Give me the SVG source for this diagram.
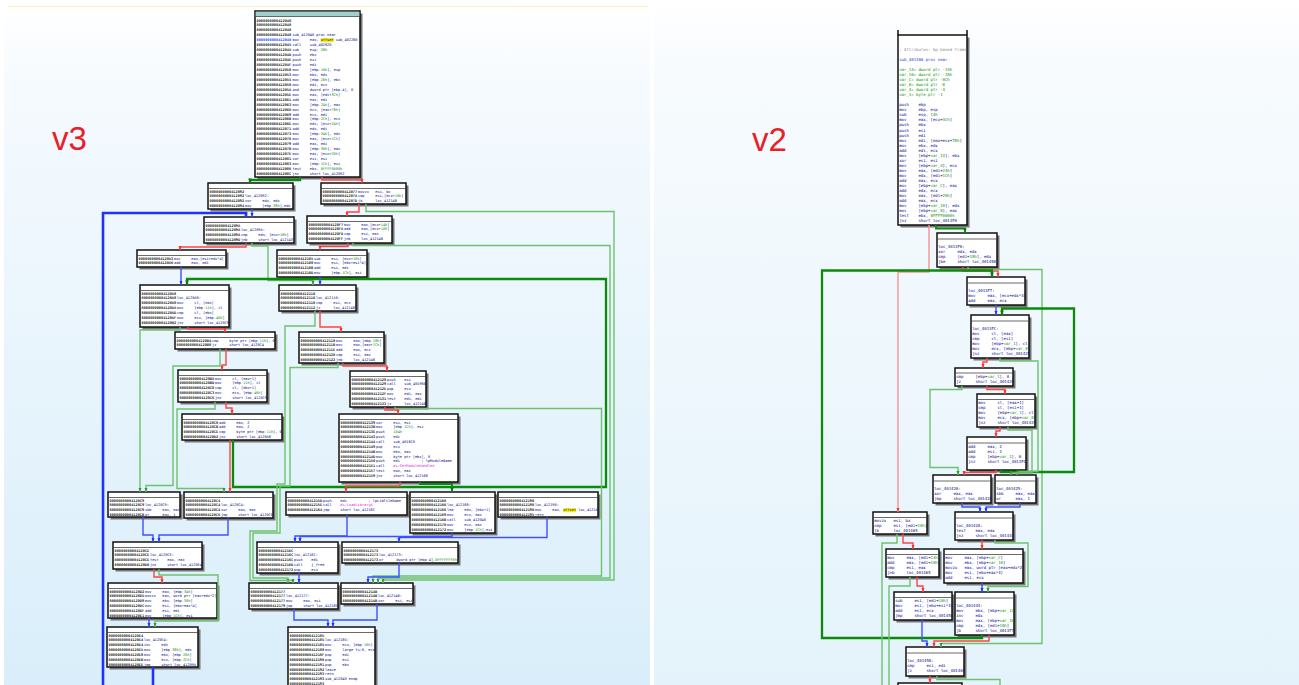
<svg xmlns="http://www.w3.org/2000/svg" width="1299" height="685" viewBox="0 0 1299 685">
<defs>
<style>
.bx{fill:#fff;stroke:#111;stroke-width:1.5}
.sh{fill:#767676}
.hl{stroke:#444;stroke-width:0.8}
.a{font-family:"DejaVu Sans Mono","Liberation Mono",monospace;font-size:3.6px;font-weight:bold;fill:#2a2a2a}
.ab{fill:#2a4cff}
.i{font-family:"DejaVu Sans Mono","Liberation Mono",monospace;font-size:3.6px;fill:#0a0a8c;white-space:pre}
.t{font-family:"DejaVu Sans Mono","Liberation Mono",monospace;font-size:4px;fill:#0a0a8c;white-space:pre}
.g{fill:#0a8f0a}
.m{fill:#e01ee0}
.c{fill:#8a8a8a}
.pn{fill:#2040d0}
.e{fill:none;stroke-width:1.4}
.r{stroke:#ff4444;marker-end:url(#mr)}
.pk{stroke:#f59393;marker-end:url(#mr)}
.lg{stroke:#6dc26d;marker-end:url(#mg)}
.dg{stroke:#0b8b0b;stroke-width:2.3;marker-end:url(#md)}
.b{stroke:#3d50ff;marker-end:url(#mb)}
.bb{stroke:#1f33ff;stroke-width:2.6;marker-end:url(#mb)}
.lbl{font-family:"Liberation Sans",Arial,sans-serif;font-size:33px;fill:#e8202a}
</style>
<marker id="mr" viewBox="0 0 8 6" refX="8" refY="3" markerWidth="4.2" markerHeight="3.6" markerUnits="userSpaceOnUse" orient="auto"><path d="M0,0L8,3L0,6z" fill="#ff2e2e"/></marker>
<marker id="mg" viewBox="0 0 8 6" refX="8" refY="3" markerWidth="4.2" markerHeight="3.6" markerUnits="userSpaceOnUse" orient="auto"><path d="M0,0L8,3L0,6z" fill="#2e9a2e"/></marker>
<marker id="md" viewBox="0 0 8 6" refX="8" refY="3" markerWidth="4.6" markerHeight="4" markerUnits="userSpaceOnUse" orient="auto"><path d="M0,0L8,3L0,6z" fill="#0a7a0a"/></marker>
<marker id="mb" viewBox="0 0 8 6" refX="8" refY="3" markerWidth="4.2" markerHeight="3.6" markerUnits="userSpaceOnUse" orient="auto"><path d="M0,0L8,3L0,6z" fill="#1f33ff"/></marker>
<linearGradient id="bgL" x1="0" y1="0" x2="0" y2="1"><stop offset="0" stop-color="#ffffff"/><stop offset="0.12" stop-color="#f5fafe"/><stop offset="1" stop-color="#d9eefa"/></linearGradient>
<linearGradient id="bgR" x1="0" y1="0" x2="0" y2="1"><stop offset="0" stop-color="#ffffff"/><stop offset="0.1" stop-color="#f7fbfe"/><stop offset="1" stop-color="#e4f3fb"/></linearGradient>
<clipPath id="k20"><rect x="498" y="492" width="100" height="25"/></clipPath>
<clipPath id="k0"><rect x="898" y="35" width="69" height="190"/></clipPath>
<clipPath id="kA"><rect x="937" y="233" width="60" height="34"/></clipPath>
<clipPath id="kB"><rect x="967" y="277" width="58" height="28"/></clipPath>
<clipPath id="kC"><rect x="971" y="315" width="58" height="43"/></clipPath>
<clipPath id="kD"><rect x="955" y="368" width="58" height="18"/></clipPath>
<clipPath id="kE"><rect x="977" y="394" width="58" height="33"/></clipPath>
<clipPath id="kF"><rect x="967" y="437" width="59" height="33"/></clipPath>
<clipPath id="kG"><rect x="933" y="475" width="58" height="28"/></clipPath>
<clipPath id="kH"><rect x="995" y="475" width="41" height="28"/></clipPath>
<clipPath id="kI"><rect x="873" y="512" width="54" height="22"/></clipPath>
<clipPath id="kJ"><rect x="955" y="512" width="58" height="28"/></clipPath>
<clipPath id="kK"><rect x="886" y="549" width="53" height="28"/></clipPath>
<clipPath id="kL"><rect x="944" y="549" width="79" height="34"/></clipPath>
<clipPath id="kM"><rect x="894" y="592" width="58" height="28"/></clipPath>
<clipPath id="kN"><rect x="955" y="592" width="59" height="43"/></clipPath>
<clipPath id="kO"><rect x="906" y="647" width="58" height="29"/></clipPath>
</defs>

<rect width="1299" height="685" fill="#ffffff"/>
<rect x="4" y="7" width="646" height="678" fill="url(#bgL)"/>
<line x1="8" y1="6.5" x2="648" y2="6.5" stroke="#fbf0c4" stroke-width="1"/>
<rect x="654" y="0" width="645" height="685" fill="url(#bgR)"/>
<text class="lbl" x="52" y="150">v3</text>
<text class="lbl" x="752" y="151">v2</text>

<g id="v3-nodes">
<g id="n3_412040">
<rect class="sh" x="257.5" y="13.5" width="105" height="166"/>
<rect class="bx" x="255" y="11" width="105" height="166"/>
<rect x="255.75" y="11.75" width="103.5" height="4.5" fill="#9fd0cb"/>
<line class="hl" x1="255" y1="16.5" x2="360" y2="16.5"/>
<text class="a" y="21.5"><tspan x="256.5">0000000000412040</tspan><tspan x="256.5" dy="4.95">0000000000412040</tspan><tspan x="256.5" dy="4.95">0000000000412040</tspan><tspan x="256.5" dy="4.95">0000000000412040</tspan><tspan x="256.5" dy="4.95" class="ab">0000000000412040</tspan><tspan x="256.5" dy="4.95">0000000000412045</tspan><tspan x="256.5" dy="4.95">000000000041204A</tspan><tspan x="256.5" dy="4.95">000000000041204D</tspan><tspan x="256.5" dy="4.95">000000000041204E</tspan><tspan x="256.5" dy="4.95">000000000041204F</tspan><tspan x="256.5" dy="4.95">0000000000412050</tspan><tspan x="256.5" dy="4.95">0000000000412053</tspan><tspan x="256.5" dy="4.95">0000000000412055</tspan><tspan x="256.5" dy="4.95">0000000000412058</tspan><tspan x="256.5" dy="4.95">000000000041205A</tspan><tspan x="256.5" dy="4.95">000000000041205E</tspan><tspan x="256.5" dy="4.95">0000000000412061</tspan><tspan x="256.5" dy="4.95">0000000000412063</tspan><tspan x="256.5" dy="4.95">0000000000412066</tspan><tspan x="256.5" dy="4.95">0000000000412069</tspan><tspan x="256.5" dy="4.95">000000000041206B</tspan><tspan x="256.5" dy="4.95">000000000041206E</tspan><tspan x="256.5" dy="4.95">0000000000412071</tspan><tspan x="256.5" dy="4.95">0000000000412073</tspan><tspan x="256.5" dy="4.95">0000000000412076</tspan><tspan x="256.5" dy="4.95">0000000000412079</tspan><tspan x="256.5" dy="4.95">000000000041207B</tspan><tspan x="256.5" dy="4.95">000000000041207E</tspan><tspan x="256.5" dy="4.95">0000000000412081</tspan><tspan x="256.5" dy="4.95">0000000000412083</tspan><tspan x="256.5" dy="4.95">0000000000412086</tspan><tspan x="256.5" dy="4.95">000000000041208C</tspan></text>
<rect x="320.6" y="38.2" width="13" height="4" fill="#f4f000"/>
<text class="i" y="36.35"><tspan x="292.5">sub_412040 proc near</tspan><tspan x="292.5" dy="4.95">mov     eax, offset sub_4022B0</tspan><tspan x="292.5" dy="4.95">call    sub_402820</tspan><tspan x="292.5" dy="4.95">sub     esp, <tspan class="g">28h</tspan></tspan><tspan x="292.5" dy="4.95">push    ebx</tspan><tspan x="292.5" dy="4.95">push    esi</tspan><tspan x="292.5" dy="4.95">push    edi</tspan><tspan x="292.5" dy="4.95">mov     [ebp-<tspan class="g">10h</tspan>], esp</tspan><tspan x="292.5" dy="4.95">mov     ebx, edx</tspan><tspan x="292.5" dy="4.95">mov     [ebp-<tspan class="g">20h</tspan>], ebx</tspan><tspan x="292.5" dy="4.95">mov     edi, ecx</tspan><tspan x="292.5" dy="4.95">and     dword ptr [ebp-4], 0</tspan><tspan x="292.5" dy="4.95">mov     eax, [edi+<tspan class="g">3Ch</tspan>]</tspan><tspan x="292.5" dy="4.95">add     eax, edi</tspan><tspan x="292.5" dy="4.95">mov     [ebp-<tspan class="g">24h</tspan>], eax</tspan><tspan x="292.5" dy="4.95">mov     ecx, [eax+<tspan class="g">78h</tspan>]</tspan><tspan x="292.5" dy="4.95">add     ecx, edi</tspan><tspan x="292.5" dy="4.95">mov     [ebp-<tspan class="g">2Ch</tspan>], ecx</tspan><tspan x="292.5" dy="4.95">mov     edx, [ecx+<tspan class="g">24h</tspan>]</tspan><tspan x="292.5" dy="4.95">add     edx, edi</tspan><tspan x="292.5" dy="4.95">mov     [ebp-<tspan class="g">34h</tspan>], edx</tspan><tspan x="292.5" dy="4.95">mov     eax, [ecx+<tspan class="g">1Ch</tspan>]</tspan><tspan x="292.5" dy="4.95">add     eax, edi</tspan><tspan x="292.5" dy="4.95">mov     [ebp-<tspan class="g">30h</tspan>], eax</tspan><tspan x="292.5" dy="4.95">mov     eax, [ecx+<tspan class="g">20h</tspan>]</tspan><tspan x="292.5" dy="4.95">xor     esi, esi</tspan><tspan x="292.5" dy="4.95">mov     [ebp-<tspan class="g">1Ch</tspan>], esi</tspan><tspan x="292.5" dy="4.95">test    ebx, <tspan class="g">0FFFF0000h</tspan></tspan><tspan x="292.5" dy="4.95">jnz     short loc_412092</tspan></text>
</g>

<g id="n3_412092">
<rect class="sh" x="210.5" y="185.5" width="85" height="26"/>
<rect class="bx" x="208" y="183" width="85" height="26"/>
<line class="hl" x1="208" y1="188.5" x2="293" y2="188.5"/>
<text class="a" y="192.6"><tspan x="209.5">0000000000412092</tspan><tspan x="209.5" dy="4.85">0000000000412092</tspan><tspan x="209.5" dy="4.85">0000000000412092</tspan><tspan x="209.5" dy="4.85">0000000000412094</tspan></text>
<text class="i" y="197.45"><tspan x="245">loc_412092:</tspan><tspan x="245" dy="4.85">xor     edx, edx</tspan><tspan x="245" dy="4.85">mov     [ebp-<tspan class="g">38h</tspan>],edx</tspan></text>
</g>

<g id="n3_412077">
<rect class="sh" x="323.5" y="185.5" width="85" height="21"/>
<rect class="bx" x="321" y="183" width="85" height="21"/>
<line class="hl" x1="321" y1="188.5" x2="406" y2="188.5"/>
<text class="a" y="192.6"><tspan x="322.5">0000000000412077</tspan><tspan x="322.5" dy="4.85">000000000041207A</tspan><tspan x="322.5" dy="4.85">000000000041207D</tspan></text>
<text class="i" y="192.6"><tspan x="358">movzx   esi, bx</tspan><tspan x="358" dy="4.85">cmp     esi,[ecx+<tspan class="g">10h</tspan>]</tspan><tspan x="358" dy="4.85">jb      loc_41214B</tspan></text>
</g>

<g id="n3_41209A">
<rect class="sh" x="206.5" y="219.5" width="90" height="26"/>
<rect class="bx" x="204" y="217" width="90" height="26"/>
<line class="hl" x1="204" y1="222.5" x2="294" y2="222.5"/>
<text class="a" y="226.6"><tspan x="205.5">000000000041209A</tspan><tspan x="205.5" dy="4.85">000000000041209A</tspan><tspan x="205.5" dy="4.85">000000000041209A</tspan><tspan x="205.5" dy="4.85">000000000041209D</tspan></text>
<text class="i" y="231.45"><tspan x="241">loc_41209A:</tspan><tspan x="241" dy="4.85">cmp     edx, [ecx+<tspan class="g">18h</tspan>]</tspan><tspan x="241" dy="4.85">jnb     short loc_412143</tspan></text>
</g>

<g id="n3_4120F7">
<rect class="sh" x="309.5" y="218.5" width="85" height="27"/>
<rect class="bx" x="307" y="216" width="85" height="27"/>
<line class="hl" x1="307" y1="221.5" x2="392" y2="221.5"/>
<text class="a" y="225.6"><tspan x="308.5">00000000004120F7</tspan><tspan x="308.5" dy="4.85">00000000004120FA</tspan><tspan x="308.5" dy="4.85">00000000004120FD</tspan><tspan x="308.5" dy="4.85">00000000004120FF</tspan></text>
<text class="i" y="225.6"><tspan x="344">mov     eax,[ecx+<tspan class="g">14h</tspan>]</tspan><tspan x="344" dy="4.85">add     eax,[ecx+<tspan class="g">10h</tspan>]</tspan><tspan x="344" dy="4.85">cmp     esi, eax</tspan><tspan x="344" dy="4.85">jnb     loc_41214B</tspan></text>
</g>

<g id="n3_4120A3">
<rect class="sh" x="139.5" y="252.5" width="89" height="17"/>
<rect class="bx" x="137" y="250" width="89" height="17"/>
<line class="hl" x1="137" y1="255.5" x2="226" y2="255.5"/>
<text class="a" y="259.6"><tspan x="138.5">00000000004120A3</tspan><tspan x="138.5" dy="4.85">00000000004120A6</tspan></text>
<text class="i" y="259.6"><tspan x="174">mov     eax,[esi+edx*4]</tspan><tspan x="174" dy="4.85">add     eax, edi</tspan></text>
</g>

<g id="n3_412105">
<rect class="sh" x="279.5" y="252.5" width="90" height="27"/>
<rect class="bx" x="277" y="250" width="90" height="27"/>
<line class="hl" x1="277" y1="255.5" x2="367" y2="255.5"/>
<text class="a" y="259.6"><tspan x="278.5">0000000000412105</tspan><tspan x="278.5" dy="4.85">0000000000412108</tspan><tspan x="278.5" dy="4.85">000000000041210B</tspan><tspan x="278.5" dy="4.85">000000000041210D</tspan></text>
<text class="i" y="259.6"><tspan x="314">sub     esi, [ecx+<tspan class="g">10h</tspan>]</tspan><tspan x="314" dy="4.85">mov     esi, [ebx+esi*4]</tspan><tspan x="314" dy="4.85">add     esi, edi</tspan><tspan x="314" dy="4.85">mov     [ebp-<tspan class="g">1Ch</tspan>], esi</tspan></text>
</g>

<g id="n3_4120A8">
<rect class="sh" x="142.5" y="287.5" width="89" height="42"/>
<rect class="bx" x="140" y="285" width="89" height="42"/>
<line class="hl" x1="140" y1="290.5" x2="229" y2="290.5"/>
<text class="a" y="294.6"><tspan x="141.5">00000000004120A8</tspan><tspan x="141.5" dy="4.85">00000000004120A8</tspan><tspan x="141.5" dy="4.85">00000000004120A8</tspan><tspan x="141.5" dy="4.85">00000000004120AA</tspan><tspan x="141.5" dy="4.85">00000000004120AD</tspan><tspan x="141.5" dy="4.85">00000000004120AF</tspan><tspan x="141.5" dy="4.85">00000000004120B2</tspan></text>
<text class="i" y="299.45"><tspan x="177">loc_4120A8:</tspan><tspan x="177" dy="4.85">mov     cl, [eax]</tspan><tspan x="177" dy="4.85">mov     [ebp-<tspan class="g">11h</tspan>], cl</tspan><tspan x="177" dy="4.85">cmp     cl, [ebx]</tspan><tspan x="177" dy="4.85">mov     ecx, [ebp-<tspan class="g">40h</tspan>]</tspan><tspan x="177" dy="4.85">jnz     short loc_4120C9</tspan></text>
</g>

<g id="n3_412110">
<rect class="sh" x="281.5" y="287.5" width="77" height="26"/>
<rect class="bx" x="279" y="285" width="77" height="26"/>
<line class="hl" x1="279" y1="290.5" x2="356" y2="290.5"/>
<text class="a" y="294.6"><tspan x="280.5">0000000000412110</tspan><tspan x="280.5" dy="4.85">0000000000412110</tspan><tspan x="280.5" dy="4.85">0000000000412110</tspan><tspan x="280.5" dy="4.85">0000000000412112</tspan></text>
<text class="i" y="299.45"><tspan x="316">loc_412110:</tspan><tspan x="316" dy="4.85">cmp     esi, ecx</tspan><tspan x="316" dy="4.85">jz      loc_41214B</tspan></text>
</g>

<g id="n3_4120B4">
<rect class="sh" x="177.5" y="334.5" width="100" height="17"/>
<rect class="bx" x="175" y="332" width="100" height="17"/>
<line class="hl" x1="175" y1="337.5" x2="275" y2="337.5"/>
<text class="a" y="341.6"><tspan x="176.5">00000000004120B4</tspan><tspan x="176.5" dy="4.85">00000000004120B8</tspan></text>
<text class="i" y="341.6"><tspan x="212">cmp     byte ptr [ebp-<tspan class="g">11h</tspan>], 0</tspan><tspan x="212" dy="4.85">jz      short loc_4120C4</tspan></text>
</g>

<g id="n3_412118">
<rect class="sh" x="301.5" y="334.5" width="85" height="31"/>
<rect class="bx" x="299" y="332" width="85" height="31"/>
<line class="hl" x1="299" y1="337.5" x2="384" y2="337.5"/>
<text class="a" y="341.6"><tspan x="300.5">0000000000412118</tspan><tspan x="300.5" dy="4.85">000000000041211B</tspan><tspan x="300.5" dy="4.85">000000000041211E</tspan><tspan x="300.5" dy="4.85">0000000000412120</tspan><tspan x="300.5" dy="4.85">0000000000412122</tspan></text>
<text class="i" y="341.6"><tspan x="336">mov     eax,[ebp-<tspan class="g">18h</tspan>]</tspan><tspan x="336" dy="4.85">mov     eax,[eax+<tspan class="g">7Ch</tspan>]</tspan><tspan x="336" dy="4.85">add     eax, ecx</tspan><tspan x="336" dy="4.85">cmp     esi, eax</tspan><tspan x="336" dy="4.85">jnb     loc_41214B</tspan></text>
</g>

<g id="n3_4120BA">
<rect class="sh" x="180.5" y="372.5" width="89" height="32"/>
<rect class="bx" x="178" y="370" width="89" height="32"/>
<line class="hl" x1="178" y1="375.5" x2="267" y2="375.5"/>
<text class="a" y="379.6"><tspan x="179.5">00000000004120BA</tspan><tspan x="179.5" dy="4.85">00000000004120BD</tspan><tspan x="179.5" dy="4.85">00000000004120C0</tspan><tspan x="179.5" dy="4.85">00000000004120C3</tspan><tspan x="179.5" dy="4.85">00000000004120C6</tspan></text>
<text class="i" y="379.6"><tspan x="215">mov     cl, [eax+1]</tspan><tspan x="215" dy="4.85">mov     [ebp-<tspan class="g">11h</tspan>], cl</tspan><tspan x="215" dy="4.85">cmp     cl, [ebx+1]</tspan><tspan x="215" dy="4.85">mov     ecx, [ebp-<tspan class="g">40h</tspan>]</tspan><tspan x="215" dy="4.85">jnz     short loc_4120C9</tspan></text>
</g>

<g id="n3_412128">
<rect class="sh" x="352.5" y="373.5" width="76" height="36"/>
<rect class="bx" x="350" y="371" width="76" height="36"/>
<line class="hl" x1="350" y1="376.5" x2="426" y2="376.5"/>
<text class="a" y="380.6"><tspan x="351.5">0000000000412128</tspan><tspan x="351.5" dy="4.85">0000000000412129</tspan><tspan x="351.5" dy="4.85">000000000041212E</tspan><tspan x="351.5" dy="4.85">000000000041212F</tspan><tspan x="351.5" dy="4.85">0000000000412131</tspan><tspan x="351.5" dy="4.85">0000000000412133</tspan></text>
<text class="i" y="380.6"><tspan x="387">push    esi</tspan><tspan x="387" dy="4.85">call    sub_401960</tspan><tspan x="387" dy="4.85">pop     ecx</tspan><tspan x="387" dy="4.85">mov     edi, eax</tspan><tspan x="387" dy="4.85">test    edi, edi</tspan><tspan x="387" dy="4.85">jz      loc_41214B</tspan></text>
</g>

<g id="n3_4120C8">
<rect class="sh" x="184.5" y="416.5" width="100" height="26"/>
<rect class="bx" x="182" y="414" width="100" height="26"/>
<line class="hl" x1="182" y1="419.5" x2="282" y2="419.5"/>
<text class="a" y="423.6"><tspan x="183.5">00000000004120C8</tspan><tspan x="183.5" dy="4.85">00000000004120CB</tspan><tspan x="183.5" dy="4.85">00000000004120CE</tspan><tspan x="183.5" dy="4.85">00000000004120D2</tspan></text>
<text class="i" y="423.6"><tspan x="219">add     ebx, 2</tspan><tspan x="219" dy="4.85">add     eax, 2</tspan><tspan x="219" dy="4.85">cmp     byte ptr [ebp-<tspan class="g">11h</tspan>], 0</tspan><tspan x="219" dy="4.85">jnz     short loc_4120A8</tspan></text>
</g>

<g id="n3_412139">
<rect class="sh" x="341.5" y="416.5" width="119" height="68"/>
<rect class="bx" x="339" y="414" width="119" height="68"/>
<line class="hl" x1="339" y1="419.5" x2="458" y2="419.5"/>
<text class="a" y="423.6"><tspan x="340.5">0000000000412139</tspan><tspan x="340.5" dy="4.85">000000000041213B</tspan><tspan x="340.5" dy="4.85">000000000041213E</tspan><tspan x="340.5" dy="4.85">0000000000412143</tspan><tspan x="340.5" dy="4.85">0000000000412144</tspan><tspan x="340.5" dy="4.85">0000000000412149</tspan><tspan x="340.5" dy="4.85">000000000041214B</tspan><tspan x="340.5" dy="4.85">000000000041214D</tspan><tspan x="340.5" dy="4.85">0000000000412150</tspan><tspan x="340.5" dy="4.85">0000000000412151</tspan><tspan x="340.5" dy="4.85">0000000000412157</tspan><tspan x="340.5" dy="4.85">0000000000412159</tspan></text>
<text class="i" y="423.6"><tspan x="376">xor     esi, esi</tspan><tspan x="376" dy="4.85">mov     [ebp-<tspan class="g">1Ch</tspan>], esi</tspan><tspan x="376" dy="4.85">push    <tspan class="g">104h</tspan></tspan><tspan x="376" dy="4.85">push    edi</tspan><tspan x="376" dy="4.85">call    sub_4016C0</tspan><tspan x="376" dy="4.85">pop     ecx</tspan><tspan x="376" dy="4.85">mov     ebx, eax</tspan><tspan x="376" dy="4.85">mov     byte ptr [ebx], 0</tspan><tspan x="376" dy="4.85">push    edi          ; lpModuleName</tspan><tspan x="376" dy="4.85">call    <tspan class="m">ds:GetModuleHandleA</tspan></tspan><tspan x="376" dy="4.85">test    eax, eax</tspan><tspan x="376" dy="4.85">jnz     short loc_412166</tspan></text>
</g>

<g id="n3_4120C9">
<rect class="sh" x="110.5" y="494.5" width="72" height="25"/>
<rect class="bx" x="108" y="492" width="72" height="25"/>
<line class="hl" x1="108" y1="497.5" x2="180" y2="497.5"/>
<text class="a" y="501.6"><tspan x="109.5">00000000004120C9</tspan><tspan x="109.5" dy="4.85">00000000004120C9</tspan><tspan x="109.5" dy="4.85">00000000004120C9</tspan><tspan x="109.5" dy="4.85">00000000004120CB</tspan></text>
<text class="i" y="506.45"><tspan x="145">loc_4120C9:</tspan><tspan x="145" dy="4.85">sbb     eax, eax</tspan><tspan x="145" dy="4.85">or      eax, 1</tspan></text>
</g>

<g id="n3_4120C4">
<rect class="sh" x="186.5" y="494.5" width="89" height="26"/>
<rect class="bx" x="184" y="492" width="89" height="26"/>
<line class="hl" x1="184" y1="497.5" x2="273" y2="497.5"/>
<text class="a" y="501.6"><tspan x="185.5">00000000004120C4</tspan><tspan x="185.5" dy="4.85">00000000004120C4</tspan><tspan x="185.5" dy="4.85">00000000004120C4</tspan><tspan x="185.5" dy="4.85">00000000004120C6</tspan></text>
<text class="i" y="506.45"><tspan x="221">loc_4120C4:</tspan><tspan x="221" dy="4.85">xor     eax, eax</tspan><tspan x="221" dy="4.85">jmp     short loc_4120CE</tspan></text>
</g>

<g id="n3_41215D">
<rect class="sh" x="288.5" y="494.5" width="121" height="23"/>
<rect class="bx" x="286" y="492" width="121" height="23"/>
<line class="hl" x1="286" y1="497.5" x2="407" y2="497.5"/>
<text class="a" y="501.6"><tspan x="287.5">000000000041215D</tspan><tspan x="287.5" dy="4.85">000000000041215E</tspan><tspan x="287.5" dy="4.85">0000000000412164</tspan></text>
<text class="i" y="501.6"><tspan x="323">push    edi          ; lpLibFileName</tspan><tspan x="323" dy="4.85">call    <tspan class="m">ds:LoadLibraryA</tspan></tspan><tspan x="323" dy="4.85">jmp     short loc_41216C</tspan></text>
</g>

<g id="n3_412166">
<rect class="sh" x="412.5" y="494.5" width="85" height="41"/>
<rect class="bx" x="410" y="492" width="85" height="41"/>
<line class="hl" x1="410" y1="497.5" x2="495" y2="497.5"/>
<text class="a" y="501.6"><tspan x="411.5">0000000000412166</tspan><tspan x="411.5" dy="4.85">0000000000412166</tspan><tspan x="411.5" dy="4.85">0000000000412166</tspan><tspan x="411.5" dy="4.85">0000000000412169</tspan><tspan x="411.5" dy="4.85">000000000041216B</tspan><tspan x="411.5" dy="4.85">0000000000412170</tspan><tspan x="411.5" dy="4.85">0000000000412172</tspan></text>
<text class="i" y="506.45"><tspan x="447">loc_412166:</tspan><tspan x="447" dy="4.85">lea     edx, [ebx+1]</tspan><tspan x="447" dy="4.85">mov     ecx, eax</tspan><tspan x="447" dy="4.85">call    sub_412040</tspan><tspan x="447" dy="4.85">mov     ecx, eax</tspan><tspan x="447" dy="4.85">mov     [ebp-<tspan class="g">1Ch</tspan>],esi</tspan></text>
</g>

<g id="n3_412190">
<rect class="sh" x="500.5" y="494.5" width="100" height="25"/>
<rect class="bx" x="498" y="492" width="100" height="25"/>
<line class="hl" x1="498" y1="497.5" x2="598" y2="497.5"/>
<text class="a" y="501.6"><tspan x="499.5">0000000000412190</tspan><tspan x="499.5" dy="4.85">0000000000412190</tspan><tspan x="499.5" dy="4.85">0000000000412190</tspan><tspan x="499.5" dy="4.85">0000000000412195</tspan></text>
<rect x="563.2" y="508.2" width="13" height="4" fill="#f4f000"/>
<g clip-path="url(#k20)"><text class="i" y="506.45"><tspan x="535">loc_412190:</tspan><tspan x="535" dy="4.85">mov     eax, offset loc_4121A0</tspan><tspan x="535" dy="4.85">retn</tspan></text></g>
</g>

<g id="n3_4120CE">
<rect class="sh" x="115.5" y="544.5" width="89" height="27"/>
<rect class="bx" x="113" y="542" width="89" height="27"/>
<line class="hl" x1="113" y1="547.5" x2="202" y2="547.5"/>
<text class="a" y="551.6"><tspan x="114.5">00000000004120CE</tspan><tspan x="114.5" dy="4.85">00000000004120CE</tspan><tspan x="114.5" dy="4.85">00000000004120CE</tspan><tspan x="114.5" dy="4.85">00000000004120D0</tspan></text>
<text class="i" y="556.45"><tspan x="150">loc_4120CE:</tspan><tspan x="150" dy="4.85">test    eax, eax</tspan><tspan x="150" dy="4.85">jnz     short loc_4120E4</tspan></text>
</g>

<g id="n3_41216C">
<rect class="sh" x="259.5" y="544.5" width="81" height="31"/>
<rect class="bx" x="257" y="542" width="81" height="31"/>
<line class="hl" x1="257" y1="547.5" x2="338" y2="547.5"/>
<text class="a" y="551.6"><tspan x="258.5">000000000041216C</tspan><tspan x="258.5" dy="4.85">000000000041216C</tspan><tspan x="258.5" dy="4.85">000000000041216C</tspan><tspan x="258.5" dy="4.85">000000000041216D</tspan><tspan x="258.5" dy="4.85">0000000000412172</tspan></text>
<text class="i" y="556.45"><tspan x="294">loc_41216C:</tspan><tspan x="294" dy="4.85">push    edi</tspan><tspan x="294" dy="4.85">call    j_free</tspan><tspan x="294" dy="4.85">pop     ecx</tspan></text>
</g>

<g id="n3_412173">
<rect class="sh" x="344.5" y="544.5" width="116" height="21"/>
<rect class="bx" x="342" y="542" width="116" height="21"/>
<line class="hl" x1="342" y1="547.5" x2="458" y2="547.5"/>
<text class="a" y="551.6"><tspan x="343.5">0000000000412173</tspan><tspan x="343.5" dy="4.85">0000000000412173</tspan><tspan x="343.5" dy="4.85">0000000000412173</tspan></text>
<text class="i" y="556.45"><tspan x="379">loc_412173:</tspan><tspan x="379" dy="4.85">or      dword ptr [ebp-4],<tspan class="g">0FFFFFFFEh</tspan></tspan></text>
</g>

<g id="n3_4120D2">
<rect class="sh" x="110.5" y="585.5" width="109" height="35"/>
<rect class="bx" x="108" y="583" width="109" height="35"/>
<line class="hl" x1="108" y1="588.5" x2="217" y2="588.5"/>
<text class="a" y="592.6"><tspan x="109.5">00000000004120D2</tspan><tspan x="109.5" dy="4.85">00000000004120D5</tspan><tspan x="109.5" dy="4.85">00000000004120D9</tspan><tspan x="109.5" dy="4.85">00000000004120DC</tspan><tspan x="109.5" dy="4.85">00000000004120DF</tspan><tspan x="109.5" dy="4.85">00000000004120E1</tspan></text>
<text class="i" y="592.6"><tspan x="145">mov     eax, [ebp-<tspan class="g">34h</tspan>]</tspan><tspan x="145" dy="4.85">movzx   eax, word ptr [eax+edx*2]</tspan><tspan x="145" dy="4.85">mov     ebx, [ebp-<tspan class="g">30h</tspan>]</tspan><tspan x="145" dy="4.85">mov     esi, [ebx+eax*4]</tspan><tspan x="145" dy="4.85">add     esi, edi</tspan><tspan x="145" dy="4.85">mov     [ebp-<tspan class="g">1Ch</tspan>], esi</tspan></text>
</g>

<g id="n3_412177">
<rect class="sh" x="251.5" y="585.5" width="89" height="26"/>
<rect class="bx" x="249" y="583" width="89" height="26"/>
<line class="hl" x1="249" y1="588.5" x2="338" y2="588.5"/>
<text class="a" y="592.6"><tspan x="250.5">0000000000412177</tspan><tspan x="250.5" dy="4.85">0000000000412177</tspan><tspan x="250.5" dy="4.85">0000000000412177</tspan><tspan x="250.5" dy="4.85">0000000000412179</tspan></text>
<text class="i" y="597.45"><tspan x="286">loc_412177:</tspan><tspan x="286" dy="4.85">mov     eax, esi</tspan><tspan x="286" dy="4.85">jmp     short loc_412185</tspan></text>
</g>

<g id="n3_41214B">
<rect class="sh" x="343.5" y="585.5" width="72" height="21"/>
<rect class="bx" x="341" y="583" width="72" height="21"/>
<line class="hl" x1="341" y1="588.5" x2="413" y2="588.5"/>
<text class="a" y="592.6"><tspan x="342.5">000000000041214B</tspan><tspan x="342.5" dy="4.85">000000000041214B</tspan><tspan x="342.5" dy="4.85">000000000041214B</tspan></text>
<text class="i" y="597.45"><tspan x="378">loc_41214B:</tspan><tspan x="378" dy="4.85">xor     esi, esi</tspan></text>
</g>

<g id="n3_4120E4">
<rect class="sh" x="109.5" y="629.5" width="91" height="40"/>
<rect class="bx" x="107" y="627" width="91" height="40"/>
<line class="hl" x1="107" y1="632.5" x2="198" y2="632.5"/>
<text class="a" y="636.6"><tspan x="108.5">00000000004120E4</tspan><tspan x="108.5" dy="4.85">00000000004120E4</tspan><tspan x="108.5" dy="4.85">00000000004120E4</tspan><tspan x="108.5" dy="4.85">00000000004120E5</tspan><tspan x="108.5" dy="4.85">00000000004120E8</tspan><tspan x="108.5" dy="4.85">00000000004120EB</tspan><tspan x="108.5" dy="4.85">00000000004120EE</tspan></text>
<text class="i" y="641.45"><tspan x="144">loc_4120E4:</tspan><tspan x="144" dy="4.85">inc     edx</tspan><tspan x="144" dy="4.85">mov     [ebp-<tspan class="g">38h</tspan>], edx</tspan><tspan x="144" dy="4.85">mov     ebx, [ebp-<tspan class="g">20h</tspan>]</tspan><tspan x="144" dy="4.85">mov     ecx, [ebp-<tspan class="g">2Ch</tspan>]</tspan><tspan x="144" dy="4.85">jmp     short loc_41209A</tspan></text>
</g>

<g id="n3_412185">
<rect class="sh" x="290.5" y="629.5" width="87" height="62"/>
<rect class="bx" x="288" y="627" width="87" height="62"/>
<line class="hl" x1="288" y1="632.5" x2="375" y2="632.5"/>
<text class="a" y="636.6"><tspan x="289.5">0000000000412185</tspan><tspan x="289.5" dy="4.85">0000000000412185</tspan><tspan x="289.5" dy="4.85">0000000000412185</tspan><tspan x="289.5" dy="4.85">0000000000412188</tspan><tspan x="289.5" dy="4.85">000000000041218F</tspan><tspan x="289.5" dy="4.85">0000000000412190</tspan><tspan x="289.5" dy="4.85">0000000000412191</tspan><tspan x="289.5" dy="4.85">0000000000412192</tspan><tspan x="289.5" dy="4.85">0000000000412193</tspan><tspan x="289.5" dy="4.85">0000000000412193</tspan><tspan x="289.5" dy="4.85">0000000000412193</tspan></text>
<text class="i" y="641.45"><tspan x="325">loc_412185:</tspan><tspan x="325" dy="4.85">mov     ecx, [ebp-<tspan class="g">10h</tspan>]</tspan><tspan x="325" dy="4.85">mov     large fs:0, ecx</tspan><tspan x="325" dy="4.85">pop     edi</tspan><tspan x="325" dy="4.85">pop     esi</tspan><tspan x="325" dy="4.85">pop     ebx</tspan><tspan x="325" dy="4.85">leave</tspan><tspan x="325" dy="4.85">retn</tspan><tspan x="325" dy="4.85">sub_412040 endp</tspan></text>
</g>
</g>

<g id="v2-nodes">
<g id="n2_4013A0">
<rect class="sh" x="900.5" y="37.5" width="69" height="190"/>
<rect class="bx" x="898" y="35" width="69" height="190"/>
<path d="M898,30V35M967,30V35" stroke="#111" stroke-width="1.5"/>
<g clip-path="url(#k0)">
<text class="t c" x="899.2" y="50.5">; Attributes: bp-based frame</text>
<text class="t pn" x="899.2" y="60.5">sub_4013A0 proc near</text>
<text class="t g" y="70.5"><tspan x="899.2">var_14= dword ptr -14h</tspan><tspan x="899.2" dy="5">var_10= dword ptr -10h</tspan><tspan x="899.2" dy="5">var_C= dword ptr -0Ch</tspan><tspan x="899.2" dy="5">var_8= dword ptr -8</tspan><tspan x="899.2" dy="5">var_4= dword ptr -4</tspan><tspan x="899.2" dy="5">var_1= byte ptr -1</tspan></text>
<text class="t" y="106.3"><tspan x="899.2">push    ebp</tspan><tspan x="899.2" dy="5.04">mov     ebp, esp</tspan><tspan x="899.2" dy="5.04">sub     esp, <tspan class="g">14h</tspan></tspan><tspan x="899.2" dy="5.04">mov     eax, [ecx+<tspan class="g">3Ch</tspan>]</tspan><tspan x="899.2" dy="5.04">push    ebx</tspan><tspan x="899.2" dy="5.04">push    esi</tspan><tspan x="899.2" dy="5.04">push    edi</tspan><tspan x="899.2" dy="5.04">mov     edi, [eax+ecx+<tspan class="g">78h</tspan>]</tspan><tspan x="899.2" dy="5.04">mov     ebx, edx</tspan><tspan x="899.2" dy="5.04">add     edi, ecx</tspan><tspan x="899.2" dy="5.04">mov     [ebp+<tspan class="g">var_14</tspan>], ebx</tspan><tspan x="899.2" dy="5.04">xor     esi, esi</tspan><tspan x="899.2" dy="5.04">mov     [ebp+<tspan class="g">var_4</tspan>], ecx</tspan><tspan x="899.2" dy="5.04">mov     eax, [edi+<tspan class="g">24h</tspan>]</tspan><tspan x="899.2" dy="5.04">mov     edx, [edi+<tspan class="g">1Ch</tspan>]</tspan><tspan x="899.2" dy="5.04">add     eax, ecx</tspan><tspan x="899.2" dy="5.04">mov     [ebp+<tspan class="g">var_C</tspan>], eax</tspan><tspan x="899.2" dy="5.04">add     edx, ecx</tspan><tspan x="899.2" dy="5.04">mov     eax, [edi+<tspan class="g">20h</tspan>]</tspan><tspan x="899.2" dy="5.04">add     eax, ecx</tspan><tspan x="899.2" dy="5.04">mov     [ebp+<tspan class="g">var_10</tspan>], edx</tspan><tspan x="899.2" dy="5.04">mov     [ebp+<tspan class="g">var_8</tspan>], eax</tspan><tspan x="899.2" dy="5.04">test    ebx, <tspan class="g">0FFFF0000h</tspan></tspan><tspan x="899.2" dy="5.04">jnz     short loc_4013F0</tspan></text>
</g>
</g>

<g id="n2_4013F0">
<rect class="sh" x="939.5" y="235.5" width="60" height="34"/>
<rect class="bx" x="937" y="233" width="60" height="34"/>
<line class="hl" x1="937" y1="239" x2="997" y2="239"/>
<g clip-path="url(#kA)"><text class="t" y="248.3"><tspan x="938.2">loc_4013F0:</tspan><tspan x="938.2" dy="5">xor     edx, edx</tspan><tspan x="938.2" dy="5">cmp     [edi+<tspan class="g">18h</tspan>], edx</tspan><tspan x="938.2" dy="5">jbe     short loc_401458</tspan></text></g>
</g>

<g id="n2_4013F7">
<rect class="sh" x="969.5" y="279.5" width="58" height="28"/>
<rect class="bx" x="967" y="277" width="58" height="28"/>
<line class="hl" x1="967" y1="283" x2="1025" y2="283"/>
<g clip-path="url(#kB)"><text class="t" y="292.3"><tspan x="968.2">loc_4013F7:</tspan><tspan x="968.2" dy="5">mov     eax, [ecx+edx*4]</tspan><tspan x="968.2" dy="5">add     eax, ecx</tspan></text></g>
</g>

<g id="n2_4013FC">
<rect class="sh" x="973.5" y="317.5" width="58" height="43"/>
<rect class="bx" x="971" y="315" width="58" height="43"/>
<line class="hl" x1="971" y1="321" x2="1029" y2="321"/>
<g clip-path="url(#kC)"><text class="t" y="330.3"><tspan x="972.2">loc_4013FC:</tspan><tspan x="972.2" dy="5">mov     cl, [eax]</tspan><tspan x="972.2" dy="5">cmp     cl, [esi]</tspan><tspan x="972.2" dy="5">mov     [ebp+<tspan class="g">var_1</tspan>], cl</tspan><tspan x="972.2" dy="5">mov     ecx, [ebp+<tspan class="g">var_8</tspan>]</tspan><tspan x="972.2" dy="5">jnz     short loc_401425</tspan></text></g>
</g>

<g id="n2_40140B">
<rect class="sh" x="957.5" y="370.5" width="58" height="18"/>
<rect class="bx" x="955" y="368" width="58" height="18"/>
<line class="hl" x1="955" y1="373" x2="1013" y2="373"/>
<g clip-path="url(#kD)"><text class="t" y="378.3"><tspan x="956.2">cmp     [ebp+<tspan class="g">var_1</tspan>], 0</tspan><tspan x="956.2" dy="5">jz      short loc_401420</tspan></text></g>
</g>

<g id="n2_401411">
<rect class="sh" x="979.5" y="396.5" width="58" height="33"/>
<rect class="bx" x="977" y="394" width="58" height="33"/>
<line class="hl" x1="977" y1="399.5" x2="1035" y2="399.5"/>
<g clip-path="url(#kE)"><text class="t" y="404.3"><tspan x="978.2">mov     cl, [eax+1]</tspan><tspan x="978.2" dy="5">cmp     cl, [esi+1]</tspan><tspan x="978.2" dy="5">mov     [ebp+<tspan class="g">var_1</tspan>], cl</tspan><tspan x="978.2" dy="5">mov     ecx, [ebp+<tspan class="g">var_8</tspan>]</tspan><tspan x="978.2" dy="5">jnz     short loc_401425</tspan></text></g>
</g>

<g id="n2_401414">
<rect class="sh" x="969.5" y="439.5" width="59" height="33"/>
<rect class="bx" x="967" y="437" width="59" height="33"/>
<line class="hl" x1="967" y1="443" x2="1026" y2="443"/>
<g clip-path="url(#kF)"><text class="t" y="448.3"><tspan x="968.2">add     eax, 2</tspan><tspan x="968.2" dy="5">add     esi, 2</tspan><tspan x="968.2" dy="5">cmp     [ebp+<tspan class="g">var_1</tspan>], 0</tspan><tspan x="968.2" dy="5">jnz     short loc_4013FC</tspan></text></g>
</g>

<g id="n2_401420">
<rect class="sh" x="935.5" y="477.5" width="58" height="28"/>
<rect class="bx" x="933" y="475" width="58" height="28"/>
<line class="hl" x1="933" y1="481" x2="991" y2="481"/>
<g clip-path="url(#kG)"><text class="t" y="490.3"><tspan x="934.2">loc_401420:</tspan><tspan x="934.2" dy="5">xor     eax, eax</tspan><tspan x="934.2" dy="5">jmp     short loc_40142A</tspan></text></g>
</g>

<g id="n2_401425">
<rect class="sh" x="997.5" y="477.5" width="41" height="28"/>
<rect class="bx" x="995" y="475" width="41" height="28"/>
<line class="hl" x1="995" y1="481" x2="1036" y2="481"/>
<g clip-path="url(#kH)"><text class="t" y="490.3"><tspan x="996.2">loc_401425:</tspan><tspan x="996.2" dy="5">sbb     eax, eax</tspan><tspan x="996.2" dy="5">or      eax, 1</tspan></text></g>
</g>

<g id="n2_4013D8">
<rect class="sh" x="875.5" y="514.5" width="54" height="22"/>
<rect class="bx" x="873" y="512" width="54" height="22"/>
<line class="hl" x1="873" y1="517.5" x2="927" y2="517.5"/>
<g clip-path="url(#kI)"><text class="t" y="522.3"><tspan x="874.2">movzx   esi, bx</tspan><tspan x="874.2" dy="5">cmp     esi, [edi+<tspan class="g">10h</tspan>]</tspan><tspan x="874.2" dy="5">jb      loc_401465</tspan></text></g>
</g>

<g id="n2_40142A">
<rect class="sh" x="957.5" y="514.5" width="58" height="28"/>
<rect class="bx" x="955" y="512" width="58" height="28"/>
<line class="hl" x1="955" y1="518" x2="1013" y2="518"/>
<g clip-path="url(#kJ)"><text class="t" y="527.3"><tspan x="956.2">loc_40142A:</tspan><tspan x="956.2" dy="5">test    eax, eax</tspan><tspan x="956.2" dy="5">jnz     short loc_401444</tspan></text></g>
</g>

<g id="n2_4013E4">
<rect class="sh" x="888.5" y="551.5" width="53" height="28"/>
<rect class="bx" x="886" y="549" width="53" height="28"/>
<line class="hl" x1="886" y1="554.5" x2="939" y2="554.5"/>
<g clip-path="url(#kK)"><text class="t" y="559.3"><tspan x="887.2">mov     eax, [edi+<tspan class="g">14h</tspan>]</tspan><tspan x="887.2" dy="5">add     eax, [edi+<tspan class="g">10h</tspan>]</tspan><tspan x="887.2" dy="5">cmp     esi, eax</tspan><tspan x="887.2" dy="5">jnb     loc_401465</tspan></text></g>
</g>

<g id="n2_401430">
<rect class="sh" x="946.5" y="551.5" width="79" height="34"/>
<rect class="bx" x="944" y="549" width="79" height="34"/>
<line class="hl" x1="944" y1="554.5" x2="1023" y2="554.5"/>
<g clip-path="url(#kL)"><text class="t" y="559.3"><tspan x="945.2">mov     eax, [ebp+<tspan class="g">var_C</tspan>]</tspan><tspan x="945.2" dy="5">mov     ebx, [ebp+<tspan class="g">var_10</tspan>]</tspan><tspan x="945.2" dy="5">movzx   eax, word ptr [eax+edx*2]</tspan><tspan x="945.2" dy="5">mov     esi, [ebx+eax*4]</tspan><tspan x="945.2" dy="5">add     esi, ecx</tspan></text></g>
</g>

<g id="n2_4013EF">
<rect class="sh" x="896.5" y="594.5" width="58" height="28"/>
<rect class="bx" x="894" y="592" width="58" height="28"/>
<line class="hl" x1="894" y1="597.5" x2="952" y2="597.5"/>
<g clip-path="url(#kM)"><text class="t" y="602.3"><tspan x="895.2">sub     esi, [edi+<tspan class="g">10h</tspan>]</tspan><tspan x="895.2" dy="5">mov     esi, [ebx+esi*4]</tspan><tspan x="895.2" dy="5">add     esi, ecx</tspan><tspan x="895.2" dy="5">jmp     short loc_401458</tspan></text></g>
</g>

<g id="n2_401444">
<rect class="sh" x="957.5" y="594.5" width="59" height="43"/>
<rect class="bx" x="955" y="592" width="59" height="43"/>
<line class="hl" x1="955" y1="598" x2="1014" y2="598"/>
<g clip-path="url(#kN)"><text class="t" y="607.3"><tspan x="956.2">loc_401444:</tspan><tspan x="956.2" dy="5">mov     ebx, [ebp+<tspan class="g">var_14</tspan>]</tspan><tspan x="956.2" dy="5">inc     edx</tspan><tspan x="956.2" dy="5">mov     eax, [ebp+<tspan class="g">var_10</tspan>]</tspan><tspan x="956.2" dy="5">cmp     edx, [edi+<tspan class="g">18h</tspan>]</tspan><tspan x="956.2" dy="5">jb      short loc_4013F7</tspan></text></g>
</g>

<g id="n2_401458">
<rect class="sh" x="908.5" y="649.5" width="58" height="29"/>
<rect class="bx" x="906" y="647" width="58" height="29"/>
<line class="hl" x1="906" y1="653" x2="964" y2="653"/>
<g clip-path="url(#kO)"><text class="t" y="662.3"><tspan x="907.2">loc_401458:</tspan><tspan x="907.2" dy="5">cmp     esi, edi</tspan><tspan x="907.2" dy="5">jz      short loc_401465</tspan></text></g>
</g>

<g id="n2_40145C">
<rect class="sh" x="900.5" y="685.5" width="64" height="20"/>
<rect class="bx" x="898" y="683" width="64" height="20"/>
</g>
</g>

<g id="connectors">
<path class="e dg" d="M300,177V180H250V183"/>
<path class="e r" d="M322,177V180H362V183"/>
<path class="e b" d="M252,209V217"/>
<path class="e bb" d="M103,685V213H246V217"/>
<path class="e r" d="M359,204V212H347V216"/>
<path class="e lg" d="M366,204V211.5H614V580H383V583"/>
<path class="e r" d="M246,243V247H180V250"/>
<path class="e lg" d="M252,243V246H268V280.5H313V285"/>
<path class="e dg" d="M233,440V487H606V279H187V285"/>
<path class="e r" d="M348,243V246.5H320V250"/>
<path class="e lg" d="M353,243V245.5H610V578H378V583"/>
<path class="e b" d="M181,267V285"/>
<path class="e b" d="M320,277V285"/>
<path class="e r" d="M188,327V329H225V332"/>
<path class="e lg" d="M180,327V330H140V492"/>
<path class="e r" d="M226,349V365H222V370"/>
<path class="e lg" d="M220,349V366H173V485.5H146V492"/>
<path class="e r" d="M343,363V366H387V371"/>
<path class="e lg" d="M338,363V367.5H290V486H280V533H253V578H288V583"/>
<path class="e r" d="M320,311V327H341V332"/>
<path class="e lg" d="M315,311V326H285V484H277V531H250V580.5H293V583"/>
<path class="e r" d="M226,402V408H232V414"/>
<path class="e lg" d="M215,402V409H177V488.5H224V492"/>
<path class="e r" d="M385,407V410H398V414"/>
<path class="e lg" d="M395,407V408.5H601.5V576H373V583"/>
<path class="e r" d="M400,482V486H346V492"/>
<path class="e dg" style="stroke-width:1.8" d="M420,482V484H452V492"/>
<path class="e r" d="M230,440V492"/>
<path class="e b" d="M143,517V535H153V542"/>
<path class="e b" d="M228,518V535H159V542"/>
<path class="e b" d="M347,515V536H295V542"/>
<path class="e b" d="M452,533V536.5H300V542"/>
<path class="e b" d="M547,517V537.5H399V542"/>
<path class="e r" d="M154,569V577H162V583"/>
<path class="e lg" d="M159,569V575H218V621H155V627"/>
<path class="e b" d="M149,618V627"/>
<path class="e b" d="M299,573V583"/>
<path class="e b" d="M399,563V577H368V583"/>
<path class="e b" d="M294,609V620H328V627"/>
<path class="e b" d="M377,604V620H333V627"/>
<path class="e bb" style="marker-end:none" d="M153,667V685"/>

<path class="e dg" style="stroke-width:1.8" d="M936,225V228.5H965V233"/>
<path class="e pk" d="M929,225V272H898V512"/>
<path class="e r" d="M963,267V271H998V277"/>
<path class="e lg" d="M968,267V269.5H1042V643.5H941V647"/>
<path class="e dg" d="M982,635V638H822V270.5H992V277"/>
<path class="e b" d="M996,305V315"/>
<path class="e dg" d="M1001,470V472H1074V308.5H1002V315"/>
<path class="e r" d="M987,358V362H983V368"/>
<path class="e lg" d="M1000,358V361H1038V471.5H1017V475"/>
<path class="e r" d="M987,386V389.5H1005V394"/>
<path class="e lg" d="M962,386V389.5H930V467.5H958V475"/>
<path class="e r" d="M1000,427V431H996V437"/>
<path class="e lg" d="M1008,427V430H1032V473H1011V475"/>
<path class="e r" d="M996,470V472.5H964V475"/>
<path class="e b" d="M962,503V507H980V512"/>
<path class="e b" d="M1020,503V507H986V512"/>
<path class="e r" d="M903,534V543H913V549"/>
<path class="e lg" style="marker-end:none" d="M897,534V543H882V685"/>
<path class="e r" d="M982,540V549"/>
<path class="e lg" d="M995,540V543H1028V586.5H988V592"/>
<path class="e r" d="M917,577V586H923V592"/>
<path class="e lg" style="marker-end:none" d="M910,577V586H889V685"/>
<path class="e b" d="M982,583V592"/>
<path class="e b" d="M922,620V641H927V647"/>
<path class="e r" d="M989,635V641H934V647"/>
<path class="e r" d="M930,676V683"/>
<path class="e lg" style="marker-end:none" d="M937,676V679.5H1000V685"/>
</g>
</svg>
